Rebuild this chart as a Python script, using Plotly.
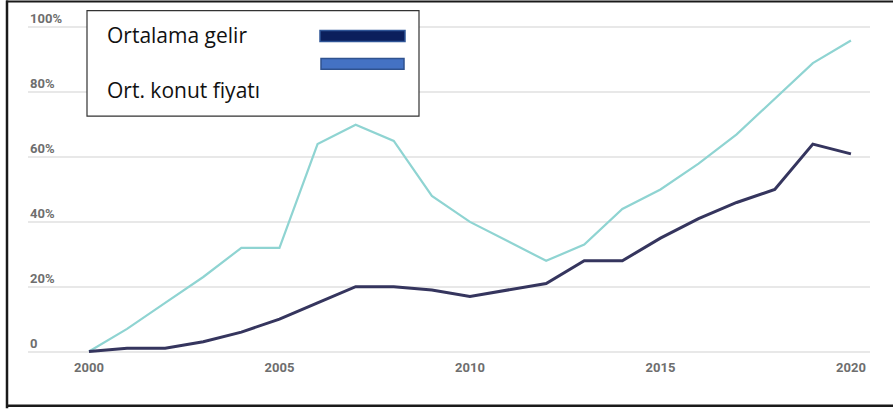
import plotly.graph_objects as go

years = list(range(2000, 2021))
gelir = [0, 1, 1, 3, 6, 10, 15, 20, 20, 19, 17, 19, 21, 28, 28, 35, 41, 46, 50, 64, 61]
konut = [0, 7, 15, 23, 32, 32, 64, 70, 65, 48, 40, 34, 28, 33, 44, 50, 58, 67, 78, 89, 96]

x_ticks = [2000, 2005, 2010, 2015, 2020]
y_ticks = [0, 20, 40, 60, 80, 100]
y_tick_text = ["0", "20%", "40%", "60%", "80%", "100%"]
legend_labels = ["Ortalama gelir", "Ort. konut fiyatı"]

fig = go.Figure()
fig.add_trace(go.Scatter(x=years, y=konut, mode="lines",
                         line=dict(color="#8fd4d2", width=2.2), name=legend_labels[1]))
fig.add_trace(go.Scatter(x=years, y=gelir, mode="lines",
                         line=dict(color="#35355e", width=3), name=legend_labels[0]))

W, H = 893, 409
L, R, T, B = 28, 23, 20.5, 50.5
PW, PH = W - L - R, H - T - B

tick_font = dict(family="Roboto", size=13, color="#6e6e6e", weight="bold")

fig.update_layout(
    width=W, height=H,
    margin=dict(l=L, r=R, t=T, b=B, pad=0),
    paper_bgcolor="white", plot_bgcolor="white",
    showlegend=False,
    font=dict(family="Roboto", color="#6e6e6e", size=12),
    xaxis=dict(range=[1998.4, 2020.5], tickvals=x_ticks, showgrid=False,
               zeroline=False, showline=False, ticks="",
               tickfont=tick_font),
    yaxis=dict(range=[-2, 102], tickvals=y_ticks, showticklabels=False,
               showgrid=True, gridcolor="#e8e8e8", gridwidth=1.5,
               zeroline=False, showline=False, ticks=""),
)

def px_x(px):
    return (px - L) / PW

def px_y(py):
    return (H - B - py) / PH

shapes = []
# outer frame (left, top, bottom)
shapes.append(dict(type="line", xref="paper", yref="paper", x0=px_x(7), x1=px_x(7),
                   y0=px_y(0), y1=px_y(409), line=dict(color="#1a1a1a", width=2.5)))
shapes.append(dict(type="line", xref="paper", yref="paper", x0=px_x(6), x1=px_x(893),
                   y0=px_y(1), y1=px_y(1), line=dict(color="#1a1a1a", width=2)))
shapes.append(dict(type="line", xref="paper", yref="paper", x0=px_x(6), x1=px_x(893),
                   y0=px_y(406.5), y1=px_y(406.5), line=dict(color="#1a1a1a", width=2.5)))
# legend box
shapes.append(dict(type="rect", xref="paper", yref="paper", x0=px_x(87), x1=px_x(419),
                   y0=px_y(10), y1=px_y(116), fillcolor="white",
                   line=dict(color="#333333", width=1.2), layer="above"))
# legend swatches
shapes.append(dict(type="rect", xref="paper", yref="paper", x0=px_x(320), x1=px_x(405),
                   y0=px_y(30), y1=px_y(41), fillcolor="#0b1f5c",
                   line=dict(color="#2f5597", width=1.5), layer="above"))
shapes.append(dict(type="rect", xref="paper", yref="paper", x0=px_x(321), x1=px_x(404),
                   y0=px_y(58), y1=px_y(69), fillcolor="#4472c4",
                   line=dict(color="#2f528f", width=1.5), layer="above"))
fig.update_layout(shapes=shapes)

anns = []
for v, t in zip(y_ticks, y_tick_text):
    anns.append(dict(text=t, xref="paper", yref="y", x=px_x(28), y=v,
                     xanchor="left", yanchor="bottom", yshift=-1, showarrow=False,
                     font=tick_font))
anns.append(dict(text=legend_labels[0], xref="paper", yref="paper", x=px_x(105), y=px_y(35),
                 xanchor="left", yanchor="middle", showarrow=False,
                 font=dict(family="Open Sans", size=21, color="#111111")))
anns.append(dict(text=legend_labels[1], xref="paper", yref="paper", x=px_x(105), y=px_y(90),
                 xanchor="left", yanchor="middle", showarrow=False,
                 font=dict(family="Open Sans", size=21, color="#111111")))
fig.update_layout(annotations=anns)

fig.write_html("out.html", config={"displayModeBar": False},
               post_script="document.body.style.margin='0';")
